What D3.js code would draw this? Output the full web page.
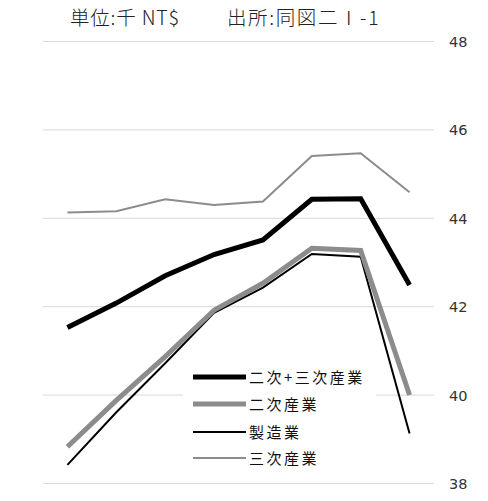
<!DOCTYPE html>
<html>
<head>
<meta charset="utf-8">
<script src="https://cdn.jsdelivr.net/npm/d3@7"></script>
<style>
  body { margin: 0; background: #fff; }
  text { font-family: "Noto Sans CJK JP", "Noto Sans", sans-serif; }
</style>
</head>
<body>
<svg id="chart" width="488" height="501"></svg>
<script>
// data (x categories are unlabeled in the original)
const periods = ["1", "2", "3", "4", "5", "6", "7", "8"]
const yTicks = [38, 40, 42, 44, 46, 48]

const totalIndustry = [41.52, 42.07, 42.69, 43.17, 43.50, 44.42, 44.43, 42.48]   // 二次+三次産業
const secondary = [38.82, 39.87, 40.86, 41.91, 42.52, 43.31, 43.26, 39.99]       // 二次産業
const manufacturing = [38.41, 39.60, 40.71, 41.85, 42.42, 43.18, 43.12, 39.12]   // 製造業
const tertiary = [44.12, 44.15, 44.42, 44.29, 44.37, 45.40, 45.46, 44.58]        // 三次産業

const seriesNames = ["二次+三次産業", "二次産業", "製造業", "三次産業"]

const svg = d3.select("#chart")

let x = d3.scaleBand().domain(periods).range([43, 434])
let y = d3.scaleLinear().domain([38, 48]).range([483, 41])

// title
svg.append("text").attr("x", 70).attr("y", 25)
	.attr("font-size", 19.5).attr("font-weight", 300).attr("letter-spacing", 0.8)
	.attr("fill", "#222")
	.text("単位:千 NT$")
svg.append("text").attr("x", 227).attr("y", 25)
	.attr("font-size", 19.5).attr("font-weight", 300).attr("letter-spacing", 1.6)
	.attr("fill", "#222")
	.text("出所:同図二Ⅰ-1")

// gridlines + right axis labels
svg.append("g").selectAll("line").data(yTicks).enter().append("line")
	.attr("x1", 43).attr("x2", 434)
	.attr("y1", (d) => y(d) + 0.5).attr("y2", (d) => y(d) + 0.5)
	.attr("stroke", "#d9d9d9").attr("stroke-width", 1)

svg.append("g").selectAll("text").data(yTicks).enter().append("text")
	.attr("x", 449).attr("y", (d) => y(d) + 6)
	.attr("font-size", 14.5).attr("fill", "#333")
	.style("font-family", "'DejaVu Sans', sans-serif")
	.text((d) => d)

let line = d3.line()
	.x((d, i) => x(periods[i]) + x.bandwidth() / 2)
	.y((d) => y(d))

let series = [
	{ name: seriesNames[0], values: totalIndustry, color: "#000", width: 5 },
	{ name: seriesNames[1], values: secondary, color: "#8c8c8c", width: 5 },
	{ name: seriesNames[2], values: manufacturing, color: "#000", width: 2 },
	{ name: seriesNames[3], values: tertiary, color: "#8c8c8c", width: 2 }
]

// draw order: thin lines under the thick ones where they overlap
let drawOrder = [series[3], series[2], series[1], series[0]]
svg.append("g").selectAll("path").data(drawOrder).enter().append("path")
	.attr("d", (d) => line(d.values))
	.attr("fill", "none")
	.attr("stroke", (d) => d.color)
	.attr("stroke-width", (d) => d.width)
	.attr("stroke-linejoin", "miter")

// legend
let legend = svg.append("g")
legend.append("rect").attr("x", 183).attr("y", 363)
	.attr("width", 193).attr("height", 108).attr("fill", "#fff")

let rowY = [377, 404, 432, 458]
let rows = legend.selectAll("g.row").data(series).enter().append("g")
	.attr("class", "row")
	.attr("transform", (d, i) => "translate(0," + rowY[i] + ")")
rows.append("line")
	.attr("x1", 193).attr("x2", 246).attr("y1", 0).attr("y2", 0)
	.attr("stroke", (d) => d.color)
	.attr("stroke-width", (d) => d.width)
rows.append("text")
	.attr("x", 249).attr("y", 5.5)
	.attr("font-size", 15).attr("letter-spacing", 2.5).attr("fill", "#111")
	.text((d) => d.name)
</script>
</body>
</html>
